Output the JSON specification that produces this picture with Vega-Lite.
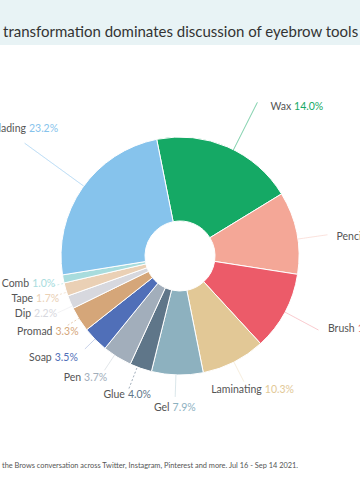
{
  "$schema": "https://vega.github.io/schema/vega-lite/v6.json",
  "autosize": "none",
  "width": 360,
  "height": 455,
  "padding": {"top": 45, "left": 0, "right": 0, "bottom": 0},
  "background": "#e8f3f5",
  "view": {"fill": "#ffffff", "stroke": null},
  "title": {
    "text": "transformation dominates discussion of eyebrow tools",
    "anchor": "start",
    "frame": "group",
    "dx": 3,
    "offset": 5,
    "font": "Lato",
    "fontSize": 15,
    "fontWeight": "normal",
    "color": "#333333"
  },
  "layer": [
    {
      "data": {
        "values": [
          {"tool": "Wax", "share": 19.4, "pct": 0.140, "rank": 1},
          {"tool": "Pencil", "share": 11.2, "pct": 0.130, "rank": 2},
          {"tool": "Brush", "share": 10.7, "pct": 0.122, "rank": 3},
          {"tool": "Laminating", "share": 8.7, "pct": 0.103, "rank": 4},
          {"tool": "Gel", "share": 7.0, "pct": 0.079, "rank": 5},
          {"tool": "Glue", "share": 3.0, "pct": 0.040, "rank": 6},
          {"tool": "Pen", "share": 4.0, "pct": 0.037, "rank": 7},
          {"tool": "Soap", "share": 3.5, "pct": 0.035, "rank": 8},
          {"tool": "Promad", "share": 3.4, "pct": 0.033, "rank": 9},
          {"tool": "Dip", "share": 1.8, "pct": 0.022, "rank": 10},
          {"tool": "Tape", "share": 1.8, "pct": 0.017, "rank": 11},
          {"tool": "Comb", "share": 1.1, "pct": 0.010, "rank": 12},
          {"tool": "Blading", "share": 24.4, "pct": 0.232, "rank": 13}
        ]
      },
      "encoding": {
        "theta": {"field": "share", "type": "quantitative", "stack": true, "scale": {"range": [-0.197, 6.086]}},
        "order": {"field": "rank", "type": "quantitative"},
        "color": {
          "field": "tool",
          "type": "nominal",
          "legend": null,
          "scale": {
            "domain": ["Wax", "Pencil", "Brush", "Laminating", "Gel", "Glue", "Pen", "Soap", "Promad", "Dip", "Tape", "Comb", "Blading"],
            "range": ["#15a965", "#f4a797", "#ec5b69", "#e2c896", "#8db1bf", "#5f7689", "#a2aebb", "#506fb8", "#d5a679", "#d7d8de", "#ead0b5", "#a8dcdd", "#86c3ec"]
          }
        }
      },
      "layer": [
        {"mark": {"type": "arc", "innerRadius": 35, "outerRadius": 119, "stroke": "#ffffff", "strokeWidth": 1, "yOffset": -16.5}},
        {
          "mark": {
            "type": "arc", "filled": false, "yOffset": -16.5, "strokeWidth": 0.6, "opacity": 0.55,
            "padAngle": 3.14,
            "strokeDash": {"expr": "datum.tool === 'Wax' || datum.tool === 'Blading' ? [1, 0] : [2, 2]"},
            "innerRadius": {"expr": "datum.tool === 'Wax' ? 82 : 119"},
            "outerRadius": {"expr": "({'Wax':172,'Pencil':149,'Brush':157,'Laminating':141,'Gel':141,'Glue':142,'Pen':137,'Soap':133,'Promad':132,'Dip':135,'Tape':130,'Comb':130,'Blading':192})[datum.tool]"},
            "thetaOffset": {"expr": "({'Wax':3.1,'Pencil':3.1,'Brush':0,'Laminating':0,'Gel':0.65,'Glue':1.75,'Pen':1.55,'Soap':0.25,'Promad':0.5,'Dip':-2.1,'Tape':-1.4,'Comb':-2.15,'Blading':1.2})[datum.tool] * PI / 180"}
          }
        },
        {
          "mark": {
            "type": "text", "align": "right", "baseline": "middle", "dx": -1.5, "yOffset": -16.5,
            "font": "Lato", "fontSize": 10.5, "color": "#555555",
            "radius": {"expr": "({'Wax':187,'Pencil':186.5,'Brush':190.5,'Laminating':157.6,'Gel':152.3,'Glue':148.9,'Pen':155.9,'Soap':162.5,'Promad':147.1,'Dip':158.5,'Tape':151.7,'Comb':151.9,'Blading':198.5})[datum.tool]"},
            "thetaOffset": {"expr": "({'Wax':13.4,'Pencil':5.3,'Brush':-5.75,'Laminating':-4.95,'Gel':2.05,'Glue':1.8,'Pen':6.75,'Soap':5.85,'Promad':1.1,'Dip':1.3,'Tape':-0.2,'Comb':0.65,'Blading':5.0})[datum.tool] * PI / 180"}
          },
          "encoding": {"text": {"field": "tool"}, "color": {"value": "#555555"}}
        },
        {
          "mark": {
            "type": "text", "align": "left", "baseline": "middle", "dx": 1.5, "yOffset": -16.5,
            "font": "Lato", "fontSize": 10.5,
            "radius": {"expr": "({'Wax':187,'Pencil':186.5,'Brush':190.5,'Laminating':157.6,'Gel':152.3,'Glue':148.9,'Pen':155.9,'Soap':162.5,'Promad':147.1,'Dip':158.5,'Tape':151.7,'Comb':151.9,'Blading':198.5})[datum.tool]"},
            "thetaOffset": {"expr": "({'Wax':13.4,'Pencil':5.3,'Brush':-5.75,'Laminating':-4.95,'Gel':2.05,'Glue':1.8,'Pen':6.75,'Soap':5.85,'Promad':1.1,'Dip':1.3,'Tape':-0.2,'Comb':0.65,'Blading':5.0})[datum.tool] * PI / 180"}
          },
          "encoding": {"text": {"field": "pct", "type": "quantitative", "format": ".1%"}}
        }
      ]
    },
    {
      "data": {"values": [{"note": "the Brows conversation across Twitter, Instagram, Pinterest and more. Jul 16 - Sep 14 2021."}]},
      "mark": {"type": "text", "align": "left", "baseline": "middle", "x": 2, "y": 421, "font": "Lato", "fontSize": 7.4, "color": "#555555"},
      "encoding": {"text": {"field": "note"}}
    }
  ]
}
